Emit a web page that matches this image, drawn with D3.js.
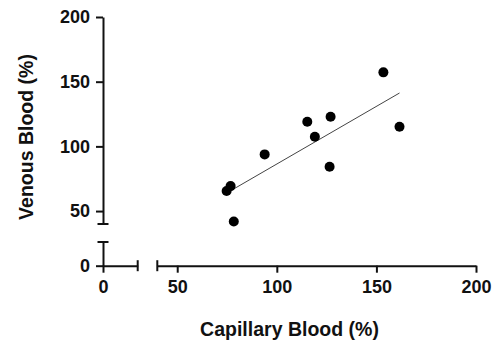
<!DOCTYPE html>
<html>
<head>
<meta charset="utf-8">
<script src="https://cdn.jsdelivr.net/npm/d3@7"></script>
<style>
  body { margin: 0; background: #fff; }
  text { font-family: "Liberation Sans", Arial, sans-serif; font-weight: bold; fill: #111; }
</style>
</head>
<body>
<div id="container"></div>
<script>
// Values
let capillary = [153.5, 161.6, 127.0, 115.3, 119.1, 93.9, 126.5, 76.8, 74.8, 78.4];
let venous = [157.2, 115.2, 122.9, 119.0, 107.5, 93.8, 84.3, 69.3, 65.5, 42.0];

// Broken axes: a short segment near 0 and the main segment
let xLowDomain = [0, 20];
let xHighDomain = [40, 200];
let yLowDomain = [0, 20];
let yHighDomain = [40, 200];
let xLowTicks = [0];
let xHighTicks = [50, 100, 150, 200];
let yLowTicks = [0];
let yHighTicks = [50, 100, 150, 200];

let xTitle = "Capillary Blood (%)";
let yTitle = "Venous Blood (%)";

function BuildGraph(){

  let chartWidth = 493;
  let chartHeight = 342;

  let svg = d3.select('#container')
    .append('svg')
    .attr('width', chartWidth)
    .attr('height', chartHeight);

  // Scales for each axis segment
  let xLow = d3.scaleLinear().domain(xLowDomain).range([103, 137.7]);
  let xHigh = d3.scaleLinear().domain(xHighDomain).range([157.3, 476]);
  let yLow = d3.scaleLinear().domain(yLowDomain).range([265.7, 242]);
  let yHigh = d3.scaleLinear().domain(yHighDomain).range([224, 17]);

  let axisY = yLow(0);
  let axisX = xLow(0);
  let capHalf = 5.5;

  function styleAxis(g){
    g.select('.domain').attr('stroke', '#111').attr('stroke-width', 2);
    g.selectAll('.tick line').attr('stroke', '#111').attr('stroke-width', 2);
    g.selectAll('.tick text')
      .style('font-size', '18px')
      .style('font-family', '"Liberation Sans", Arial, sans-serif')
      .style('font-weight', 'bold')
      .attr('fill', '#111');
  }

  // X axis, two segments
  svg.append('g')
    .attr('transform', 'translate(0,' + axisY + ')')
    .call(d3.axisBottom(xLow).tickValues(xLowTicks).tickSize(7).tickSizeOuter(0).tickPadding(8))
    .call(styleAxis);
  svg.append('g')
    .attr('transform', 'translate(0,' + axisY + ')')
    .call(d3.axisBottom(xHigh).tickValues(xHighTicks).tickSize(7).tickSizeOuter(0).tickPadding(8))
    .call(styleAxis);

  // Y axis, two segments
  svg.append('g')
    .attr('transform', 'translate(' + axisX + ',0)')
    .call(d3.axisLeft(yLow).tickValues(yLowTicks).tickSize(7).tickSizeOuter(0).tickPadding(6))
    .call(styleAxis);
  svg.append('g')
    .attr('transform', 'translate(' + axisX + ',0)')
    .call(d3.axisLeft(yHigh).tickValues(yHighTicks).tickSize(7).tickSizeOuter(0).tickPadding(6))
    .call(styleAxis);

  // End caps at the breaks
  let caps = svg.append('g').attr('stroke', '#111').attr('stroke-width', 2);
  [xLow(xLowDomain[1]), xHigh(xHighDomain[0])].forEach((x) => {
    caps.append('line')
      .attr('x1', x).attr('x2', x)
      .attr('y1', axisY - capHalf).attr('y2', axisY + capHalf);
  });
  [yLow(yLowDomain[1]), yHigh(yHighDomain[0])].forEach((y) => {
    caps.append('line')
      .attr('x1', axisX - capHalf).attr('x2', axisX + capHalf)
      .attr('y1', y).attr('y2', y);
  });

  // Linear fit through the points
  let mx = d3.mean(capillary);
  let my = d3.mean(venous);
  let sxy = d3.sum(capillary, (d, i) => (d - mx) * (venous[i] - my));
  let sxx = d3.sum(capillary, (d) => (d - mx) * (d - mx));
  let slope = sxy / sxx;
  let intercept = my - slope * mx;
  let ext = d3.extent(capillary);

  svg.append('line')
    .attr('x1', xHigh(ext[0]))
    .attr('y1', yHigh(slope * ext[0] + intercept))
    .attr('x2', xHigh(ext[1]))
    .attr('y2', yHigh(slope * ext[1] + intercept))
    .attr('stroke', '#444')
    .attr('stroke-width', 1);

  // Points
  svg.append('g')
    .selectAll('circle')
    .data(capillary)
    .enter()
    .append('circle')
    .attr('cx', (d) => xHigh(d))
    .attr('cy', (d, i) => yHigh(venous[i]))
    .attr('r', 5)
    .attr('fill', '#000');

  // Axis titles
  svg.append('text')
    .attr('x', (axisX + xHigh(200)) / 2)
    .attr('y', 336)
    .attr('text-anchor', 'middle')
    .style('font-size', '19.5px')
    .text(xTitle);

  svg.append('text')
    .attr('transform', 'translate(33,137) rotate(-90)')
    .attr('text-anchor', 'middle')
    .style('font-size', '19.5px')
    .text(yTitle);
}

BuildGraph();
</script>
</body>
</html>
